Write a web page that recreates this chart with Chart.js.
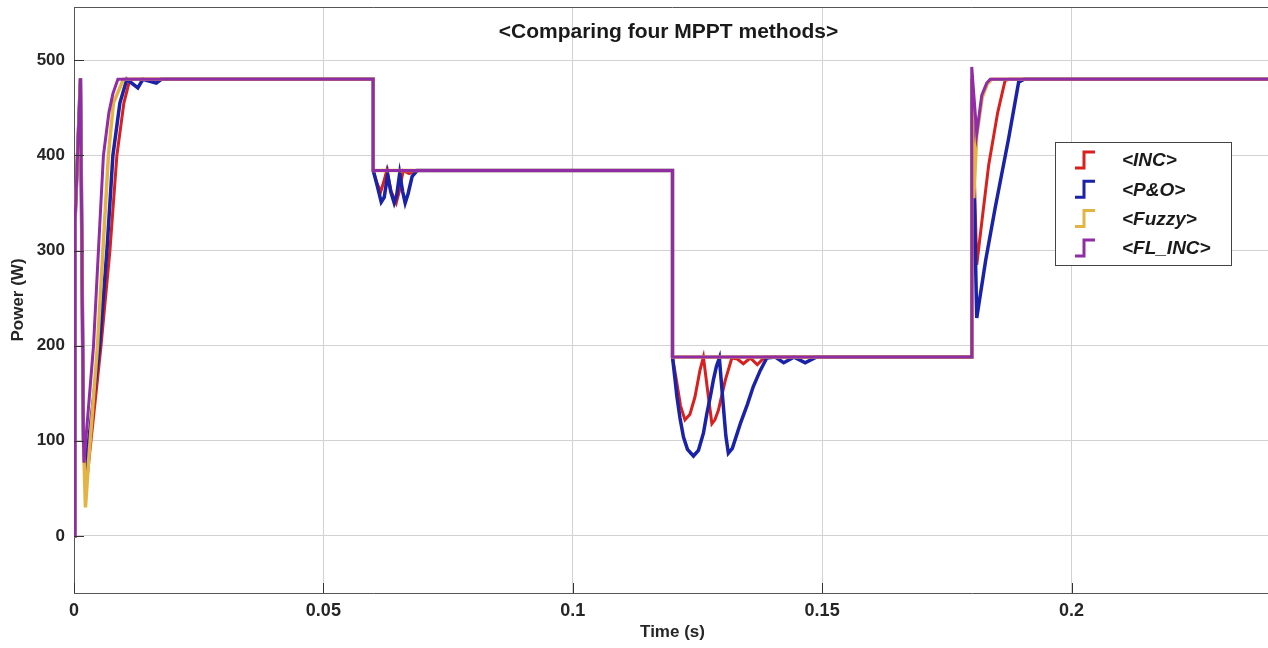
<!DOCTYPE html>
<html>
<head>
<meta charset="utf-8">
<title>Comparing four MPPT methods</title>
<script src="https://cdn.jsdelivr.net/npm/chart.js@4.4.1/dist/chart.umd.min.js"></script>
<style>
  html, body { margin: 0; padding: 0; background: #fff; overflow: hidden; }
  #wrap { width: 1268px; height: 648px; overflow: hidden; }
</style>
</head>
<body>
<div id="wrap"><canvas id="mppt" width="1271" height="648"></canvas></div>
<script>
// series labels, in legend order
const seriesNames = ['<INC>', '<P&O>', '<Fuzzy>', '<FL_INC>'];

// axis ticks
const xTicks = [0, 0.05, 0.1, 0.15, 0.2];
const yTicks = [0, 100, 200, 300, 400, 500];

// <INC>
const timeInc = [0, 0.0002, 0.0013, 0.0019, 0.0028, 0.0054, 0.0072, 0.0086, 0.0100, 0.0112,
  0.06, 0.06, 0.0608, 0.0615, 0.0621, 0.0627, 0.0636, 0.0646, 0.0652, 0.0660, 0.0672, 0.0685,
  0.12, 0.12, 0.1209, 0.1216, 0.1225, 0.1235, 0.1245, 0.1255, 0.1262, 0.1272, 0.1279, 0.1285, 0.1292, 0.1306, 0.1319, 0.1330, 0.1342, 0.1356, 0.1370, 0.1385,
  0.18, 0.18, 0.1810, 0.1822, 0.1834, 0.1852, 0.1867, 0.1875, 0.24];
const powerInc = [0, 330, 481, 100, 70, 199, 300, 400, 455, 480,
  480, 384, 370, 362, 372, 384, 362, 350, 362, 384, 381, 384,
  384, 188, 160, 137, 122, 128, 146, 174, 188, 146, 118, 122, 132, 164, 187, 186, 181, 187, 180, 188,
  188, 480, 285, 338, 390, 445, 479, 480, 480];

// <P&O>
const timePo = [0, 0.0002, 0.0013, 0.0019, 0.0024, 0.0051, 0.0066, 0.0078, 0.0092, 0.0106, 0.0128, 0.0138, 0.0152, 0.0165, 0.0175,
  0.06, 0.06, 0.0608, 0.0616, 0.0622, 0.0629, 0.0635, 0.0642, 0.0647, 0.0653, 0.0659, 0.0664, 0.0670, 0.0678, 0.0688,
  0.12, 0.12, 0.1205, 0.1209, 0.1215, 0.1222, 0.1230, 0.1242, 0.1252, 0.1262, 0.1269, 0.1276, 0.1282, 0.1288, 0.1294,
  0.1302, 0.1307, 0.1312, 0.1320, 0.1336, 0.1350, 0.1362, 0.1376, 0.1389, 0.1406, 0.1423, 0.1444, 0.1466, 0.1488,
  0.18, 0.18, 0.1810, 0.1828, 0.1847, 0.1874, 0.1894, 0.1905, 0.24];
const powerPo = [0, 330, 481, 100, 75, 199, 300, 400, 455, 480, 471, 480, 478, 476, 480,
  480, 384, 368, 351, 356, 380, 362, 350, 358, 381, 362, 350, 360, 378, 384,
  384, 188, 165, 146, 124, 104, 91, 84, 90, 108, 129, 147, 164, 178, 187,
  136, 105, 87, 92, 118, 138, 157, 174, 187, 188, 182, 188, 182, 188,
  188, 480, 229, 290, 345, 418, 477, 480, 480];

// <Fuzzy>
const timeFuzzy = [0, 0.0002, 0.0013, 0.0019, 0.0023, 0.0029, 0.0047, 0.0058, 0.0069, 0.0079, 0.0099,
  0.06, 0.06, 0.12, 0.12,
  0.18, 0.18, 0.1804, 0.1810, 0.1821, 0.1831, 0.1840, 0.24];
const powerFuzzy = [0, 330, 481, 100, 30, 77, 199, 300, 400, 455, 480,
  480, 384, 384, 188,
  188, 480, 355, 421, 461, 475, 480, 480];

// <FL_INC>
const timeFl = [0, 0.0002, 0.0013, 0.0019, 0.0020, 0.0039, 0.0049, 0.0059, 0.0070, 0.0078, 0.0088,
  0.06, 0.06, 0.12, 0.12,
  0.18, 0.18, 0.1810, 0.1820, 0.1830, 0.1837, 0.24];
const powerFl = [0, 330, 481, 100, 77, 199, 300, 400, 445, 465, 480,
  480, 384, 384, 188,
  188, 493, 423, 463, 476, 480, 480];

const colors = ['#d8201f', '#1a22a8', '#e3b443', '#8f2ca6'];
const widths = [3, 3.5, 3.5, 3];
const drawOrder = [3, 2, 1, 0]; // FL_INC on top

function pts(ts, ps) {
  return ts.map((t, i) => ({ x: t, y: ps[i] }));
}
const seriesData = [pts(timeInc, powerInc), pts(timePo, powerPo), pts(timeFuzzy, powerFuzzy), pts(timeFl, powerFl)];

Chart.defaults.font.family = '"Liberation Sans", Arial, Helvetica, sans-serif';
Chart.defaults.color = '#262626';

// title, frame, inner tick marks and legend box drawn over the plot
const decor = {
  id: 'decor',
  afterDraw(chart) {
    const { ctx, chartArea: a, scales } = chart;
    ctx.save();
    // top frame line
    ctx.strokeStyle = '#555';
    ctx.lineWidth = 1;
    ctx.beginPath();
    ctx.moveTo(a.left, a.top + 0.5);
    ctx.lineTo(a.right, a.top + 0.5);
    ctx.stroke();
    // inward ticks
    ctx.strokeStyle = '#333';
    ctx.beginPath();
    for (const v of yTicks) {
      const y = Math.round(scales.y.getPixelForValue(v)) + 0.5;
      ctx.moveTo(a.left, y);
      ctx.lineTo(a.left + 10, y);
    }
    for (const v of xTicks) {
      const x = Math.round(scales.x.getPixelForValue(v)) + 0.5;
      ctx.moveTo(x, a.bottom);
      ctx.lineTo(x, a.bottom - 10);
    }
    ctx.stroke();

    // title
    ctx.fillStyle = '#1a1a1a';
    ctx.font = 'bold 21px "Liberation Sans", Arial, sans-serif';
    ctx.textAlign = 'center';
    ctx.textBaseline = 'middle';
    ctx.fillText('<Comparing four MPPT methods>', (a.left + a.right) / 2 - 4, 32);

    // legend
    const bx = 1055, by = 142, bw = 176, bh = 123;
    ctx.fillStyle = '#fff';
    ctx.fillRect(bx, by, bw, bh);
    ctx.strokeStyle = '#444';
    ctx.strokeRect(bx + 0.5, by + 0.5, bw, bh);
    ctx.font = 'italic bold 19px "Liberation Sans", Arial, sans-serif';
    ctx.textAlign = 'left';
    seriesNames.forEach((name, i) => {
      const cy = 160 + i * 29.3;
      ctx.strokeStyle = colors[i];
      ctx.lineWidth = 3;
      ctx.beginPath();
      ctx.moveTo(1075, cy + 8);
      ctx.lineTo(1084, cy + 8);
      ctx.lineTo(1084, cy - 8);
      ctx.lineTo(1095, cy - 8);
      ctx.stroke();
      ctx.fillStyle = '#1a1a1a';
      ctx.fillText(name, 1122, cy + 1);
    });
    ctx.restore();
  }
};

new Chart(document.getElementById('mppt'), {
  type: 'line',
  data: {
    datasets: seriesNames.map((name, i) => ({
      label: name,
      data: seriesData[i],
      borderColor: colors[i],
      backgroundColor: colors[i],
      borderWidth: widths[i],
      pointRadius: 0,
      tension: 0,
      fill: false,
      order: drawOrder[i]
    }))
  },
  options: {
    responsive: false,
    animation: false,
    events: [],
    layout: { padding: { top: 7, right: 0, bottom: 0, left: 0 } },
    plugins: {
      legend: { display: false },
      tooltip: { enabled: false },
      title: { display: false }
    },
    scales: {
      x: {
        type: 'linear',
        min: 0,
        max: 0.24,
        afterBuildTicks: s => { s.ticks = xTicks.map(v => ({ value: v })); },
        afterFit: s => { s.height = 55; s.paddingLeft = 0; s.paddingRight = 0; },
        ticks: {
          autoSkip: false,
          maxRotation: 0,
          padding: 7,
          font: { size: 18, weight: 'bold' },
          color: '#262626',
          callback: v => String(v)
        },
        grid: { color: '#d2d2d2', drawTicks: false },
        border: { color: '#555', width: 1 },
        title: {
          display: true,
          text: 'Time (s)',
          font: { size: 17, weight: 'bold' },
          color: '#262626',
          padding: { top: 0, bottom: 5 }
        }
      },
      y: {
        min: -60,
        max: 556,
        afterBuildTicks: s => { s.ticks = yTicks.map(v => ({ value: v })); },
        afterFit: s => { s.width = 74; s.paddingTop = 0; s.paddingBottom = 0; },
        ticks: {
          padding: 9,
          font: { size: 17, weight: 'bold' },
          color: '#262626'
        },
        grid: { color: '#d2d2d2', drawTicks: false },
        border: { color: '#555', width: 1 },
        title: {
          display: true,
          text: 'Power (W)',
          font: { size: 17, weight: 'bold' },
          color: '#262626',
          padding: { top: 8, bottom: 0 }
        }
      }
    }
  },
  plugins: [decor]
});
</script>
</body>
</html>
